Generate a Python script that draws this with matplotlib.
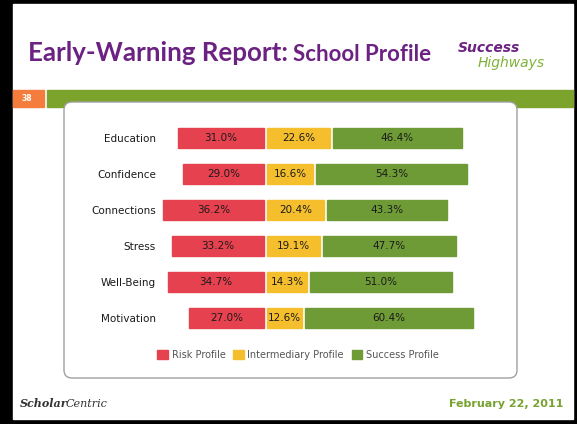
import matplotlib.pyplot as plt
from matplotlib.patches import FancyBboxPatch, Rectangle
from matplotlib.transforms import IdentityTransform

# data
categories = ['Education', 'Confidence', 'Connections', 'Stress', 'Well-Being', 'Motivation']
risk = [31.0, 29.0, 36.2, 33.2, 34.7, 27.0]
intermediary = [22.6, 16.6, 20.4, 19.1, 14.3, 12.6]
success = [46.4, 54.3, 43.3, 47.7, 51.0, 60.4]
series_names = ['Risk Profile', 'Intermediary Profile', 'Success Profile']

colors = ['#E6414F', '#F5BE2D', '#6F9B36']
purple = '#6C2282'
green = '#7CA32B'

W, H = 577, 424
fig = plt.figure(figsize=(W / 100, H / 100), dpi=100, facecolor='black')


def fx(x):
    return x / W


def fy(y):
    return 1 - y / H


# white slide inside the black frame
fig.add_artist(Rectangle((fx(13), fy(419)), (573 - 13) / W, (419 - 4) / H,
                         transform=fig.transFigure, color='white', zorder=-3))

# title
fig.text(fx(28), fy(61), 'Early-Warning Report:', fontsize=18.6, color=purple,
         fontweight='bold', va='baseline', family='Lato')
fig.text(fx(293), fy(61), 'School Profile', fontsize=16, color=purple,
         fontweight='bold', va='baseline', family='Lato')

# logo
fig.text(fx(458), fy(52), 'Success', fontsize=10, color=purple, fontweight='bold',
         style='italic', va='baseline')
fig.text(fx(478), fy(67), 'Highways', fontsize=10, color='#7FB23A',
         style='italic', va='baseline')

# header strip
fig.add_artist(Rectangle((fx(13), fy(107)), 31 / W, 17 / H,
                         transform=fig.transFigure, color='#F47C3C', zorder=-2))
fig.add_artist(Rectangle((fx(47), fy(107)), (573 - 47) / W, 17 / H,
                         transform=fig.transFigure, color=green, zorder=-2))
fig.text(fx(27), fy(98.5), '38', fontsize=5.5, color='white', fontweight='bold',
         ha='center', va='center')

# chart panel
panel = FancyBboxPatch((64, H - 378), 453, 276,
                       boxstyle='round,pad=0,rounding_size=8',
                       transform=IdentityTransform(), facecolor='white',
                       edgecolor='#A0A0A0', linewidth=1, zorder=-1)
fig.add_artist(panel)

# bars
ax = fig.add_axes([fx(160), fy(336), 350 / W, 216 / H])
ax.set_zorder(2)
ax.patch.set_alpha(0)
y = list(range(len(categories)))
gap = 1.1
bh = 0.53
left_succ = [2 * gap + v for v in intermediary]

ax.barh(y, risk, left=[-v for v in risk], height=bh, color=colors[0],
        edgecolor=colors[0], linewidth=1, label=series_names[0])
ax.barh(y, intermediary, left=gap, height=bh, color=colors[1],
        edgecolor=colors[1], linewidth=1, label=series_names[1])
ax.barh(y, success, left=left_succ, height=bh, color=colors[2],
        edgecolor=colors[2], linewidth=1, label=series_names[2])

lab = dict(ha='center', va='center', fontsize=7.5, color='#1A1A1A')
for i in y:
    ax.text(-risk[i] / 2, i, f'{risk[i]:.1f}%', **lab)
    ax.text(gap + intermediary[i] / 2, i, f'{intermediary[i]:.1f}%', **lab)
    ax.text(left_succ[i] + success[i] / 2, i, f'{success[i]:.1f}%', **lab)

ax.set_xlim(-37.4, 88.5)
ax.set_ylim(5.5, -0.5)
ax.set_yticks(y)
ax.set_yticklabels(categories, fontsize=7.5, color='#1A1A1A')
ax.tick_params(axis='y', length=0, pad=3)
ax.set_xticks([])
for s in ax.spines.values():
    s.set_visible(False)

ax.legend(loc='center', bbox_to_anchor=(fx(298), fy(355)), bbox_transform=fig.transFigure,
          ncol=3, frameon=False, fontsize=7, handlelength=1.1, handleheight=1.1,
          handletextpad=0.35, columnspacing=0.8, labelcolor='#555555')

# footer
fig.text(fx(20), fy(407), 'Scholar', fontsize=8, family='serif', style='italic',
         fontweight='bold', color='#333333', va='baseline')
fig.text(fx(66), fy(407), 'Centric', fontsize=8, family='serif', style='italic',
         color='#333333', va='baseline')
fig.text(fx(563), fy(407), 'February 22, 2011', fontsize=8, color='#78A22F',
         fontweight='bold', ha='right', va='baseline')

fig.savefig('out.png', dpi=100, facecolor=fig.get_facecolor())
